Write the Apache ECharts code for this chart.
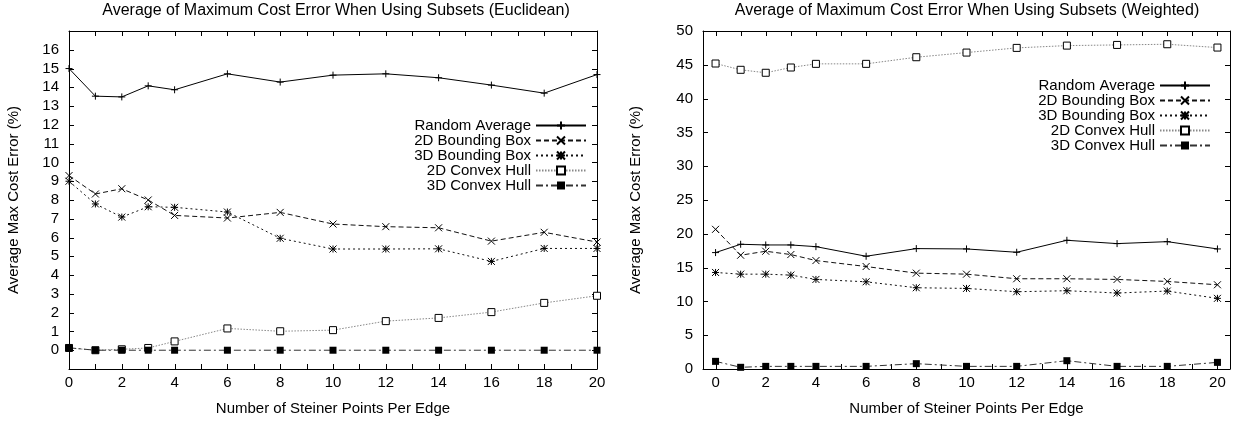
<!DOCTYPE html>
<html>
<head>
    <meta charset="utf-8">
    <title>Average of Maximum Cost Error When Using Subsets</title>
    <script src="https://cdnjs.cloudflare.com/ajax/libs/echarts/6.0.0/echarts.min.js"></script>
    <style>
        html, body { margin: 0; padding: 0; background: #fff; }
        #main { width: 1238px; height: 423px; }
    </style>
</head>
<body>
<div id="main"></div>
<script>
// x values (Steiner points per edge)
const steinerPts = [0, 1, 2, 3, 4, 6, 8, 10, 12, 14, 16, 18, 20];
const xTicks = [0, 1, 2, 3, 4, 5, 6, 7, 8, 9, 10, 11, 12, 13, 14, 15, 16, 17, 18, 19, 20];
const xLabels = [0, 2, 4, 6, 8, 10, 12, 14, 16, 18, 20];
const eucYTicks = [0, 1, 2, 3, 4, 5, 6, 7, 8, 9, 10, 11, 12, 13, 14, 15, 16];
const wYTicks = [0, 5, 10, 15, 20, 25, 30, 35, 40, 45, 50];

const seriesNames = ['Random Average', '2D Bounding Box', '3D Bounding Box', '2D Convex Hull', '3D Convex Hull'];

// Euclidean
const eucRandom = [15.0, 13.53, 13.49, 14.08, 13.87, 14.72, 14.28, 14.65, 14.72, 14.51, 14.12, 13.69, 14.68];
const euc2dBox  = [9.3, 8.32, 8.6, 8.0, 7.18, 7.04, 7.34, 6.72, 6.58, 6.52, 5.81, 6.28, 5.76];
const euc3dBox  = [9.0, 7.79, 7.09, 7.64, 7.61, 7.36, 5.96, 5.39, 5.39, 5.40, 4.73, 5.42, 5.42];
const euc2dHull = [0.12, 0.0, 0.05, 0.12, 0.47, 1.16, 1.01, 1.07, 1.55, 1.72, 2.03, 2.52, 2.90];
const euc3dHull = [0.13, 0, 0, 0, 0, 0, 0, 0, 0, 0, 0, 0, 0];

// Weighted
const wRandom = [17.22, 18.45, 18.35, 18.35, 18.1, 16.68, 17.81, 17.76, 17.27, 19.04, 18.55, 18.84, 17.76];
const w2dBox  = [20.66, 16.83, 17.42, 16.93, 16.04, 15.16, 14.18, 14.03, 13.35, 13.35, 13.25, 12.95, 12.46];
const w3dBox  = [14.28, 14.03, 14.03, 13.89, 13.25, 12.9, 12.02, 11.92, 11.43, 11.58, 11.24, 11.53, 10.45];
const w2dHull = [45.19, 44.26, 43.82, 44.6, 45.14, 45.14, 46.12, 46.81, 47.5, 47.84, 47.94, 48.04, 47.55];
const w3dHull = [1.13, 0.25, 0.39, 0.39, 0.39, 0.39, 0.79, 0.39, 0.39, 1.23, 0.39, 0.39, 0.98];

const FONT = '"Liberation Sans", Arial, Helvetica, sans-serif';
const txt = { fontFamily: FONT, fontSize: 15, color: '#000' };
const TICK_LEN = 5;

// axis ranges per panel
const eucX = [0, 20], eucY = [-1, 17];
const wX = [-0.5, 20.5], wY = [0, 50];

// gnuplot-like point/line styles
const styles = {
    'Random Average': {
        symbol: 'path://M0,5L10,5M5,0L5,10', size: 7,
        item: { color: '#000', borderColor: '#000', borderWidth: 1 },
        line: { color: '#000', width: 1, type: 'solid' }
    },
    '2D Bounding Box': {
        symbol: 'path://M0,0L10,10M10,0L0,10', size: 7,
        item: { color: '#000', borderColor: '#000', borderWidth: 1 },
        line: { color: '#111', width: 1, type: [5, 3] }
    },
    '3D Bounding Box': {
        symbol: 'path://M0,0L10,10M10,0L0,10M0,5L10,5M5,0L5,10', size: 7,
        item: { color: '#000', borderColor: '#000', borderWidth: 1 },
        line: { color: '#111', width: 1, type: [2, 3] }
    },
    '2D Convex Hull': {
        symbol: 'rect', size: 7,
        item: { color: '#fff', borderColor: '#000', borderWidth: 1 },
        line: { color: '#888', width: 1, type: [1.5, 1.5] }
    },
    '3D Convex Hull': {
        symbol: 'rect', size: 7,
        item: { color: '#000', borderColor: '#000', borderWidth: 0 },
        line: { color: '#333', width: 1, type: [7, 3, 2, 3] }
    }
};

function makeSeries(name, ys, axisIdx) {
    const s = styles[name];
    return {
        name: name,
        type: 'line',
        xAxisIndex: axisIdx,
        yAxisIndex: axisIdx,
        data: steinerPts.map((x, i) => [x, ys[i]]),
        symbol: s.symbol,
        symbolSize: s.size,
        itemStyle: s.item,
        lineStyle: s.line,
        clip: false,
        emphasis: { disabled: true }
    };
}

// inward tick marks on both opposite borders (gnuplot mirror tics), placed with api.coord
function tickSeries(axisIdx, dim, values, otherRange) {
    const tickStyle = { stroke: '#000', lineWidth: 1 };
    return {
        type: 'custom',
        xAxisIndex: axisIdx,
        yAxisIndex: axisIdx,
        silent: true,
        clip: false,
        z: 3,
        data: values.map(v => dim === 'x' ? [v, otherRange[0]] : [otherRange[0], v]),
        renderItem: function (params, api) {
            const v = api.value(dim === 'x' ? 0 : 1);
            let a, b;
            if (dim === 'x') {
                a = api.coord([v, otherRange[0]]);   // bottom border
                b = api.coord([v, otherRange[1]]);   // top border
                const px = Math.round(a[0]) + 0.5;
                return { type: 'group', children: [
                    { type: 'line', shape: { x1: px, y1: a[1], x2: px, y2: a[1] - TICK_LEN }, style: tickStyle },
                    { type: 'line', shape: { x1: px, y1: b[1], x2: px, y2: b[1] + TICK_LEN }, style: tickStyle }
                ] };
            }
            a = api.coord([otherRange[0], v]);       // left border
            b = api.coord([otherRange[1], v]);       // right border
            const py = Math.round(a[1]) + 0.5;
            return { type: 'group', children: [
                { type: 'line', shape: { x1: a[0], y1: py, x2: a[0] + TICK_LEN, y2: py }, style: tickStyle },
                { type: 'line', shape: { x1: b[0], y1: py, x2: b[0] - TICK_LEN, y2: py }, style: tickStyle }
            ] };
        }
    };
}

// border axes: line + labels
function axisBase(grid, pos, range, extra) {
    return Object.assign({
        gridIndex: grid, type: 'value', position: pos, min: range[0], max: range[1],
        axisLine: { show: true, onZero: false, lineStyle: { color: '#000', width: 1 } },
        axisTick: { show: false },
        splitLine: { show: false },
        axisLabel: { show: false }
    }, extra || {});
}

function xAxes(grid, range) {
    return [
        axisBase(grid, 'bottom', range, {
            axisLabel: Object.assign({ show: true, margin: 6, customValues: xLabels }, txt),
            name: 'Number of Steiner Points Per Edge',
            nameLocation: 'middle',
            nameGap: 32,
            nameTextStyle: txt
        }),
        axisBase(grid, 'top', range)
    ];
}

function yAxes(grid, range, labels, gap) {
    return [
        axisBase(grid, 'left', range, {
            axisLabel: Object.assign({ show: true, margin: 10, customValues: labels }, txt),
            name: 'Average Max Cost Error (%)',
            nameLocation: 'middle',
            nameGap: gap,
            nameTextStyle: txt
        }),
        axisBase(grid, 'right', range)
    ];
}

function makeLegend(right, top) {
    return {
        orient: 'vertical',
        align: 'right',
        right: right,
        top: top,
        padding: 0,
        itemGap: 0,
        itemWidth: 50,
        itemHeight: 10,
        selectedMode: false,
        data: seriesNames,
        textStyle: Object.assign({ lineHeight: 15 }, txt)
    };
}

document.addEventListener('DOMContentLoaded', function () {
    const chart = echarts.init(document.getElementById('main'), null, { renderer: 'canvas' });

    const titleStyle = Object.assign({}, txt, { fontWeight: 'normal', fontSize: 16 });

    const option = {
        animation: false,
        backgroundColor: '#fff',
        title: [
            { text: 'Average of Maximum Cost Error When Using Subsets (Euclidean)', left: 336, top: 3, padding: 0,
              textAlign: 'center', textStyle: titleStyle },
            { text: 'Average of Maximum Cost Error When Using Subsets (Weighted)', left: 967, top: 3, padding: 0,
              textAlign: 'center', textStyle: titleStyle }
        ],
        legend: [makeLegend(651, 118), makeLegend(27, 78)],
        grid: [
            { left: 69, top: 31, width: 528, height: 338, show: false },
            { left: 703, top: 31, width: 527, height: 338, show: false }
        ],
        // axes 0-1: Euclidean panel, 2-3: Weighted panel
        xAxis: [].concat(xAxes(0, eucX), xAxes(1, wX)),
        yAxis: [].concat(yAxes(0, eucY, eucYTicks, 48), yAxes(1, wY, wYTicks, 60)),
        series: [
            tickSeries(0, 'x', xTicks, eucY),
            tickSeries(0, 'y', eucYTicks, eucX),
            tickSeries(2, 'x', xTicks, wY),
            tickSeries(2, 'y', wYTicks, wX),
            makeSeries('Random Average', eucRandom, 0),
            makeSeries('2D Bounding Box', euc2dBox, 0),
            makeSeries('3D Bounding Box', euc3dBox, 0),
            makeSeries('2D Convex Hull', euc2dHull, 0),
            makeSeries('3D Convex Hull', euc3dHull, 0),
            makeSeries('Random Average', wRandom, 2),
            makeSeries('2D Bounding Box', w2dBox, 2),
            makeSeries('3D Bounding Box', w3dBox, 2),
            makeSeries('2D Convex Hull', w2dHull, 2),
            makeSeries('3D Convex Hull', w3dHull, 2)
        ]
    };

    chart.setOption(option);
});
</script>
</body>
</html>
